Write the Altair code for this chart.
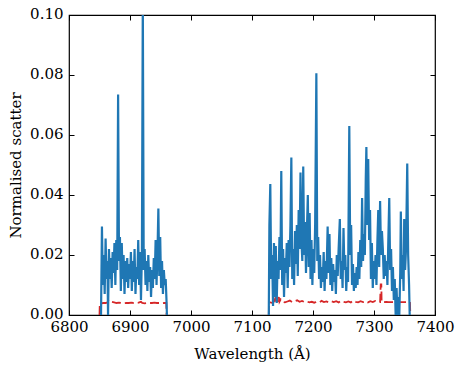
import altair as alt
import pandas as pd

# ---- blue series (normalised scatter), two wavelength windows ----
blue_wl_1 = [6852.5, 6854, 6855.5, 6857, 6858.5, 6860, 6861.5, 6863, 6864, 6865.5,
             6867, 6868.5, 6870, 6871.5, 6873, 6874.5, 6876, 6877.5, 6879, 6880.5,
             6882, 6883.5, 6885, 6886.5, 6888, 6889.5, 6891, 6892.5, 6894, 6895.5,
             6897, 6898.5, 6900, 6901.5, 6903, 6904.5, 6906, 6907.5, 6909, 6910.5,
             6912, 6913.5, 6915, 6916.5, 6918, 6919.5, 6921, 6922.5, 6924, 6925.5,
             6927, 6928.5, 6930, 6931.5, 6933, 6934.5, 6936, 6937.5, 6939, 6940.5,
             6942, 6943.5, 6945, 6946.5, 6948, 6949.5, 6951, 6952.5, 6954, 6955.5,
             6957, 6958.5, 6960, 6960.5]
blue_val_1 = [0.000, 0.0295, 0.010, 0.020, 0.007, 0.0255, 0.012, 0.018, 0.000, 0.022,
              0.012, 0.019, 0.009, 0.021, 0.014, 0.024, 0.010, 0.025, 0.015, 0.0735,
              0.018, 0.026, 0.008, 0.024, 0.012, 0.020, 0.007, 0.018, 0.011, 0.019,
              0.009, 0.017, 0.012, 0.021, 0.008, 0.018, 0.011, 0.022, 0.007, 0.016,
              0.012, 0.025, 0.010, 0.021, 0.005, 0.020, 0.105, 0.015, 0.022, 0.010,
              0.018, 0.008, 0.020, 0.011, 0.016, 0.006, 0.015, 0.009, 0.019, 0.012,
              0.025, 0.010, 0.020, 0.0355, 0.013, 0.026, 0.009, 0.018, 0.007, 0.015,
              0.010, 0.012, 0.004, 0.000]

blue_wl_2 = [7127.5, 7128.5, 7130, 7131.5, 7133, 7134.5, 7136, 7137.5, 7139, 7140.5,
             7142, 7143.5, 7145, 7146.5, 7148, 7149.5, 7151, 7152.5, 7154, 7155.5,
             7157, 7158.5, 7160, 7161.5, 7163, 7164.5, 7166, 7167.5, 7169, 7170.5,
             7172, 7173.5, 7175, 7176.5, 7178, 7179.5, 7181, 7182.5, 7184, 7185.5,
             7187, 7188.5, 7190, 7191.5, 7193, 7194.5, 7196, 7197.5, 7199, 7200.5,
             7202, 7203.5, 7205.5, 7207, 7208.5, 7210, 7211.5, 7213, 7214.5, 7216,
             7217.5, 7219, 7220.5, 7222, 7224, 7225.5, 7227, 7228.5, 7230, 7231.5,
             7233, 7234.5, 7236, 7237.5, 7239, 7240.5, 7242, 7244, 7245.5, 7247,
             7248.5, 7250, 7251.5, 7253, 7254.5, 7256, 7257.5, 7259.5, 7261, 7262.5,
             7264, 7265.5, 7267, 7268.5, 7270, 7271.5, 7273, 7274.5, 7276, 7277.5,
             7279, 7280.5, 7282, 7283.5, 7285, 7286.5, 7287.5, 7289, 7290.5, 7292,
             7293.5, 7295, 7296.5, 7298, 7299.5, 7301, 7302.5, 7304, 7305.5, 7307,
             7308.5, 7310, 7311.5, 7313, 7314.5, 7316, 7317.5, 7319, 7320.5, 7322,
             7323.5, 7325, 7326.5, 7328, 7329.5, 7331, 7332.5, 7334, 7335.5, 7337,
             7338.5, 7340, 7341.5, 7343, 7344, 7345.5, 7347, 7348.5, 7349.5, 7351,
             7352.5, 7354.5, 7356, 7357.5, 7358.5]
blue_val_2 = [0.000, 0.030, 0.0437, 0.012, 0.020, 0.003, 0.024, 0.006, 0.023, 0.004,
              0.018, 0.012, 0.026, 0.015, 0.048, 0.010, 0.022, 0.006, 0.019, 0.014,
              0.024, 0.009, 0.025, 0.016, 0.030, 0.0525, 0.012, 0.022, 0.010, 0.028,
              0.017, 0.030, 0.013, 0.035, 0.022, 0.0475, 0.025, 0.018, 0.0495, 0.020,
              0.031, 0.014, 0.028, 0.040, 0.016, 0.034, 0.012, 0.025, 0.010, 0.022,
              0.014, 0.030, 0.0806, 0.018, 0.026, 0.012, 0.020, 0.009, 0.016, 0.011,
              0.021, 0.008, 0.018, 0.012, 0.0295, 0.014, 0.027, 0.010, 0.019, 0.008,
              0.017, 0.011, 0.015, 0.007, 0.020, 0.013, 0.022, 0.032, 0.012, 0.018,
              0.009, 0.029, 0.015, 0.020, 0.008, 0.016, 0.011, 0.063, 0.020, 0.030,
              0.010, 0.017, 0.008, 0.014, 0.009, 0.016, 0.010, 0.021, 0.012, 0.025,
              0.016, 0.039, 0.018, 0.027, 0.020, 0.0455, 0.056, 0.030, 0.052, 0.025,
              0.035, 0.012, 0.024, 0.009, 0.018, 0.012, 0.020, 0.010, 0.024, 0.035,
              0.016, 0.038, 0.020, 0.028, 0.022, 0.012, 0.020, 0.013, 0.018, 0.010,
              0.025, 0.039, 0.015, 0.022, 0.008, 0.016, 0.005, 0.012, 0.000, 0.009,
              0.000, 0.006, 0.000, 0.014, 0.0345, 0.012, 0.020, 0.008, 0.032, 0.015,
              0.022, 0.0505, 0.020, 0.010, 0.000]

# ---- red dashed series (noise level) ----
red_wl_1 = [6850, 6850.5, 6853, 6856, 6860, 6863, 6865, 6867, 6870, 6874, 6878, 6882,
            6886, 6890, 6894, 6898, 6902, 6906, 6910, 6914, 6918, 6920, 6924, 6928,
            6932, 6936, 6940, 6944, 6948, 6952, 6956, 6959.5, 6960]
red_val_1 = [0.0, 0.0039, 0.0039, 0.0040, 0.0040, 0.0042, 0.0050, 0.0048, 0.0044,
             0.0042, 0.0040, 0.0041, 0.0040, 0.0039, 0.0040, 0.0040, 0.0041, 0.0040,
             0.0040, 0.0041, 0.0044, 0.0040, 0.0039, 0.0040, 0.0040, 0.0040, 0.0041,
             0.0040, 0.0040, 0.0039, 0.0040, 0.0040, 0.0]

red_wl_2 = [7127.5, 7128, 7130, 7134, 7136, 7138, 7139, 7141, 7142, 7144, 7145, 7147,
            7150, 7154, 7158, 7162, 7166, 7170, 7174, 7178, 7182, 7186, 7190, 7194,
            7198, 7202, 7206, 7210, 7214, 7218, 7222, 7226, 7230, 7234, 7238, 7242,
            7246, 7250, 7254, 7258, 7262, 7266, 7270, 7274, 7278, 7282, 7286, 7290,
            7294, 7298, 7302, 7306, 7310, 7311, 7312, 7312.5, 7316, 7320, 7324, 7328,
            7332, 7336, 7340, 7344, 7348, 7352, 7356, 7359, 7359.5]
red_val_2 = [0.0, 0.0042, 0.0042, 0.0040, 0.0045, 0.0055, 0.0042, 0.0058, 0.0043,
             0.0060, 0.0044, 0.0052, 0.0044, 0.0042, 0.0045, 0.0048, 0.0043, 0.0046,
             0.0049, 0.0044, 0.0047, 0.0043, 0.0045, 0.0042, 0.0044, 0.0041, 0.0044,
             0.0042, 0.0047, 0.0043, 0.0045, 0.0042, 0.0046, 0.0043, 0.0046, 0.0042,
             0.0047, 0.0044, 0.0042, 0.0045, 0.0042, 0.0048, 0.0044, 0.0042, 0.0046,
             0.0043, 0.0046, 0.0042, 0.0046, 0.0043, 0.0047, 0.0044, 0.0043, 0.0102,
             0.0102, 0.0043, 0.0043, 0.0044, 0.0043, 0.0043, 0.0043, 0.0043, 0.0043,
             0.0043, 0.0043, 0.0043, 0.0043, 0.0043, 0.0]

x_ticks = [6800, 6900, 7000, 7100, 7200, 7300, 7400]
y_ticks = [0.00, 0.02, 0.04, 0.06, 0.08, 0.10]

blue_df = pd.DataFrame({
    "wl": blue_wl_1 + blue_wl_2,
    "v": blue_val_1 + blue_val_2,
    "seg": ["a"] * len(blue_wl_1) + ["b"] * len(blue_wl_2),
})
red_df = pd.DataFrame({
    "wl": red_wl_1 + red_wl_2,
    "v": red_val_1 + red_val_2,
    "seg": ["a"] * len(red_wl_1) + ["b"] * len(red_wl_2),
})

FONT = "'DejaVu Serif', 'Liberation Serif', serif"
TICK = 5
FS = 15

xscale = alt.Scale(domain=[6800, 7400], nice=False, zero=False)
yscale = alt.Scale(domain=[0, 0.10], nice=False)

ax_bottom = alt.Axis(orient="bottom", values=x_ticks, format="d", offset=-TICK,
                     tickSize=TICK, domain=False, grid=False, labelPadding=4,
                     labelFlush=False, labelFont=FONT, labelFontSize=FS,
                     title="Wavelength (Å)", titlePadding=12, titleFont=FONT,
                     titleFontSize=FS)
ax_top = alt.Axis(orient="top", values=x_ticks, offset=-TICK, tickSize=TICK,
                  domain=False, grid=False, labels=False, title="")
ax_left = alt.Axis(orient="left", values=y_ticks, format=".2f", offset=-TICK,
                   tickSize=TICK, domain=False, grid=False, labelPadding=6,
                   labelFlush=False, labelOffset=-2, labelFont=FONT,
                   labelFontSize=FS, title="Normalised scatter", titlePadding=6,
                   titleFont=FONT, titleFontSize=FS)
ax_right = alt.Axis(orient="right", values=y_ticks, offset=-TICK, tickSize=TICK,
                    domain=False, grid=False, labels=False, title="")

red = alt.Chart(red_df).mark_line(
    color="#d62728", strokeWidth=1.8, strokeDash=[9, 4], clip=True
).encode(
    x=alt.X("wl:Q", scale=xscale, axis=ax_top),
    y=alt.Y("v:Q", scale=yscale, axis=ax_right),
    detail="seg:N",
)

blue = alt.Chart(blue_df).mark_line(
    color="#1f77b4", strokeWidth=2.2, clip=True
).encode(
    x=alt.X("wl:Q", scale=xscale, axis=ax_bottom),
    y=alt.Y("v:Q", scale=yscale, axis=ax_left),
    detail="seg:N",
)

chart = alt.layer(red, blue).resolve_axis(
    x="independent", y="independent"
).properties(
    width=366, height=300,
    autosize=alt.AutoSizeParams(type="none"),
    padding={"left": 61, "top": 7, "right": 20, "bottom": 47},
    background="white",
).configure_view(
    stroke="black", strokeWidth=1.2
).configure_axis(
    labelFont=FONT, titleFont=FONT, labelFontSize=FS, titleFontSize=FS,
    titleFontWeight="normal", labelColor="black", titleColor="black",
    tickColor="black", tickWidth=1
)

chart.save("out.html", embed_options={"renderer": "svg", "actions": False})
